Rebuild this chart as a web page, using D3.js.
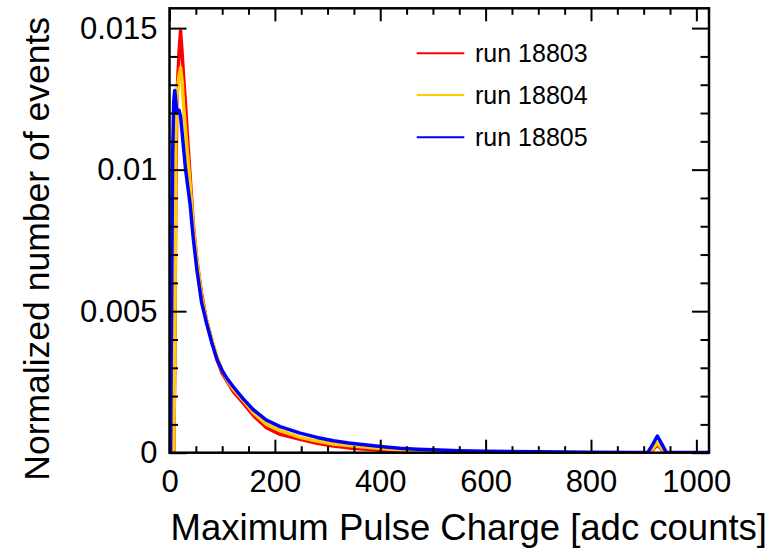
<!DOCTYPE html>
<html>
<head>
<meta charset="utf-8">
<script src="https://cdn.jsdelivr.net/npm/d3@7"></script>
<style>
  html, body { margin: 0; padding: 0; background: #fff; }
  svg { display: block; }
  text { font-family: "Liberation Sans", Arial, Helvetica, sans-serif; fill: #000; }
</style>
</head>
<body>
<svg id="chart" width="775" height="554"></svg>
<script>
// ---- data ----
const adc = [0,2,4,6,8,10,12,14,16,18,21,24,27,30,34,39,45,52,61,70,80,90,100,110,121,140,160,184,210,248,280,311,340,374,410,437,470,500,550,600,700,800,880,908,918,926,934,943,1024];

const run18803 = [0,0,0,0,0,
  0.003,0.0095,0.0124,0.0133,0.0141,
  0.0149,0.0141,0.0132,0.0124,0.0112,
  0.0098,0.0081,0.0068,0.0056,0.0047,
  0.0040,0.0033,0.0028,0.0025,0.00216,
  0.00175,0.0013,0.00088,0.00065,0.00047,
  0.00033,0.00024,0.00017,0.00012,0.00008,
  0.00005,0.00003,0.00002,0.00001,0.00001,
  0,0,0,0,0.00012,
  0.00028,0.00012,0,0];

const run18804 = [0,0,0,0,0.0002,
  0.0035,0.011,0.0125,0.013,0.0133,
  0.0136,0.0131,0.0122,0.0115,0.0106,
  0.0095,0.0080,0.0068,0.0055,0.0047,
  0.0040,0.0034,0.0029,0.00255,0.00225,
  0.00185,0.0014,0.0010,0.00078,0.00054,
  0.00041,0.00031,0.00025,0.00019,0.00014,
  0.0001,0.00007,0.00005,0.00003,0.00002,
  0.00001,0,0,0,0.00015,
  0.00035,0.00015,0,0];

const run18805 = [0,0,0.0055,0.0105,0.0124,
  0.0128,0.0124,0.0120,0.0120,0.0121,
  0.0119,0.0113,0.0107,0.0101,0.0095,
  0.0088,0.0076,0.00646,0.0053,0.0046,
  0.0039,0.0033,0.0029,0.0026,0.00233,
  0.0019,0.0015,0.00115,0.00092,0.00069,
  0.00054,0.00042,0.00034,0.00027,0.0002,
  0.000155,0.00012,0.0001,0.00007,0.00005,
  0.00003,0.00002,0.00001,0.00001,0.00032,
  0.00059,0.00032,0.00001,0.00001];

const seriesNames = ["run 18803", "run 18804", "run 18805"];
const seriesColors = ["#ff0000", "#ffcc00", "#0000ff"];
const seriesValues = [run18803, run18804, run18805];

const xMajorTicks = [0, 200, 400, 600, 800, 1000];
const yMajorTicks = [0, 0.005, 0.01, 0.015];
const yTickLabels = ["0", "0.005", "0.01", "0.015"];
const xTitle = "Maximum Pulse Charge [adc counts]";
const yTitle = "Normalized number of events";

// ---- layout ----
const L = 169.5, R = 709, T = 8.3, B = 452.7;
const svg = d3.select("#chart");

const x = d3.scaleLinear().domain([0, 1024]).range([L, R]);
const y = d3.scaleLinear().domain([0, 0.0157]).range([B, T]);

const xMinor = d3.range(0, 1025, 50).filter(v => v % 200 !== 0);
const yMinor = d3.range(0, 16).map(i => i * 0.001).filter(v => Math.abs(v / 0.005 - Math.round(v / 0.005)) > 1e-6);

// data lines
const line = d3.line().x((d, i) => x(adc[i])).y(d => y(d)).curve(d3.curveLinear);
svg.append("clipPath").attr("id", "clip").append("rect")
  .attr("x", L).attr("y", T).attr("width", R - L).attr("height", B - T);
const gData = svg.append("g").attr("clip-path", "url(#clip)");
seriesValues.forEach((vals, k) => {
  gData.append("path").datum(vals)
    .attr("d", line)
    .attr("fill", "none")
    .attr("stroke", seriesColors[k])
    .attr("stroke-width", 3.5)
    .attr("stroke-linejoin", "round");
});

// axes with inward ticks
function styleAxis(g) {
  g.select(".domain").remove();
  g.selectAll(".tick line").attr("stroke", "#000").attr("stroke-width", 2);
  g.selectAll(".tick text").attr("font-size", 31).attr("font-family", "Liberation Sans, Arial, sans-serif");
}
// bottom
svg.append("g").attr("transform", `translate(0,${B})`)
  .call(d3.axisBottom(x).tickValues(xMajorTicks).tickSizeInner(-13).tickSizeOuter(0).tickPadding(17).tickFormat(d3.format("d")))
  .call(styleAxis);
svg.append("g").attr("transform", `translate(0,${B})`)
  .call(d3.axisBottom(x).tickValues(xMinor).tickSizeInner(-6.5).tickSizeOuter(0).tickFormat(""))
  .call(styleAxis);
// top
svg.append("g").attr("transform", `translate(0,${T})`)
  .call(d3.axisTop(x).tickValues(xMajorTicks).tickSizeInner(-13).tickSizeOuter(0).tickFormat(""))
  .call(styleAxis);
svg.append("g").attr("transform", `translate(0,${T})`)
  .call(d3.axisTop(x).tickValues(xMinor).tickSizeInner(-6.5).tickSizeOuter(0).tickFormat(""))
  .call(styleAxis);
// left
svg.append("g").attr("transform", `translate(${L},0)`)
  .call(d3.axisLeft(y).tickValues(yMajorTicks).tickSizeInner(-17).tickSizeOuter(0).tickPadding(12)
    .tickFormat((d, i) => yTickLabels[i]))
  .call(styleAxis);
svg.append("g").attr("transform", `translate(${L},0)`)
  .call(d3.axisLeft(y).tickValues(yMinor).tickSizeInner(-8.5).tickSizeOuter(0).tickFormat(""))
  .call(styleAxis);
// right
svg.append("g").attr("transform", `translate(${R},0)`)
  .call(d3.axisRight(y).tickValues(yMajorTicks).tickSizeInner(-17).tickSizeOuter(0).tickFormat(""))
  .call(styleAxis);
svg.append("g").attr("transform", `translate(${R},0)`)
  .call(d3.axisRight(y).tickValues(yMinor).tickSizeInner(-8.5).tickSizeOuter(0).tickFormat(""))
  .call(styleAxis);

// frame
svg.append("rect").attr("x", L).attr("y", T).attr("width", R - L).attr("height", B - T)
  .attr("fill", "none").attr("stroke", "#000").attr("stroke-width", 2.5);

// axis titles
svg.append("text").attr("x", 767).attr("y", 540)
  .attr("text-anchor", "end").attr("font-size", 36.5).text(xTitle);
svg.append("text").attr("transform", "translate(49,17) rotate(-90)")
  .attr("text-anchor", "end").attr("font-size", 35.5).text(yTitle);

// legend
const legY = [53.3, 95, 137.3];
const leg = svg.append("g");
seriesNames.forEach((n, k) => {
  leg.append("line").attr("x1", 416.7).attr("x2", 464.3).attr("y1", legY[k]).attr("y2", legY[k])
    .attr("stroke", seriesColors[k]).attr("stroke-width", 2);
  leg.append("text").attr("x", 475).attr("y", legY[k]).attr("dy", "0.36em")
    .attr("font-size", 25).text(n);
});
</script>
</body>
</html>
